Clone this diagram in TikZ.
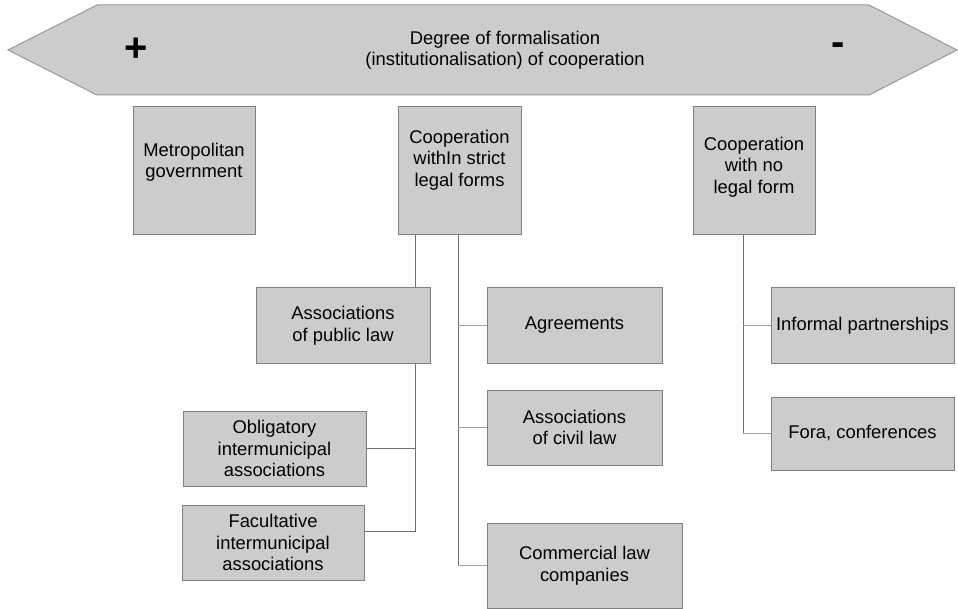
\documentclass[tikz,border=0pt]{standalone}
\usepackage{fontspec}
\setmainfont{Liberation Sans}
\definecolor{boxfill}{HTML}{CCCCCC}
\definecolor{boxline}{HTML}{7F7F7F}
\definecolor{connline}{HTML}{707070}
\definecolor{stubline}{HTML}{A0A0A0}
\begin{document}
\begin{tikzpicture}[x=1pt,y=-1pt,
  box/.style={draw=boxline, fill=boxfill, line width=1pt, inner sep=0pt, align=center,
              font=\fontsize{18.4}{21.5}\selectfont},
  lbl/.style={inner sep=0pt, align=center, font=\fontsize{18.4}{21.5}\selectfont},
  conn/.style={draw=connline, line width=0.9pt},
  stub/.style={draw=stubline, line width=1.5pt}]
\useasboundingbox (0,0) rectangle (958,609);
% big arrow
\draw[fill=boxfill, draw=boxline!80, line width=1pt]
  (8,50) -- (97,5) -- (869,5) -- (957,50) -- (869,95) -- (97,95) -- cycle;
\node[lbl] (title) at (505,50) {Degree of formalisation\\(institutionalisation) of cooperation};
\node[inner sep=0pt, font=\fontsize{40}{40}\bfseries] (plus) at (136.5,50) {+};
\node[inner sep=0pt, font=\fontsize{40}{40}\bfseries] (minus) at (838.5,49.5) {-};
% top boxes
\node[box, minimum width=122pt, minimum height=128pt] (metro) at (194,171) {};
\node[lbl] (metroT) at (194,162) {Metropolitan\\government};
\node[box, minimum width=123pt, minimum height=128pt] (strict) at (459.5,171) {};
\node[lbl] (strictT) at (459.5,160) {Cooperation\\withIn strict\\legal forms};
\node[box, minimum width=122pt, minimum height=128pt] (nolegal) at (754,171) {};
\node[lbl] (nolegalT) at (754,167) {Cooperation\\with no\\legal form};
% lower boxes
\node[box, minimum width=174pt, minimum height=75pt] (apub) at (343,325.5) {Associations\\of public law};
\node[box, minimum width=175pt, minimum height=75pt] (agr) at (574.5,325.5) {Agreements};
\node[box, minimum width=175pt, minimum height=75pt] (civil) at (574.5,427.5) {Associations\\of civil law};
\node[box, minimum width=183pt, minimum height=75pt] (oblig) at (274.5,448.5) {Obligatory\\intermunicipal\\associations};
\node[box, minimum width=182pt, minimum height=75pt] (facult) at (273,542.5) {Facultative\\intermunicipal\\associations};
\node[box, minimum width=195pt, minimum height=85pt] (comm) at (584.5,565.5) {Commercial law\\companies};
\node[box, minimum width=183pt, minimum height=75pt] (inf) at (862.5,325.5) {Informal partnerships};
\node[box, minimum width=183pt, minimum height=73pt] (fora) at (862.5,433.5) {Fora, conferences};
% connector guides
\coordinate (v1) at (415,0);
\coordinate (v2) at (458,0);
\coordinate (v3) at (743,0);
\coordinate (fj) at (0,531);
% connectors
\draw[conn] (strict.south -| v1) -- (apub.north -| v1);
\draw[conn] (apub.south -| v1) -- (v1 |- fj) -- (facult.east |- fj);
\draw[conn] (oblig.east) -- (oblig.east -| v1);
\draw[conn] (strict.south -| v2) -- (v2 |- comm.west);
\draw[stub] (v2 |- comm.west) -- (comm.west);
\draw[stub] (v2 |- agr.west) -- (agr.west);
\draw[stub] (v2 |- civil.west) -- (civil.west);
\draw[conn] (nolegal.south -| v3) -- (v3 |- fora.west);
\draw[stub] (v3 |- fora.west) -- (fora.west);
\draw[stub] (v3 |- inf.west) -- (inf.west);
\end{tikzpicture}
\end{document}
